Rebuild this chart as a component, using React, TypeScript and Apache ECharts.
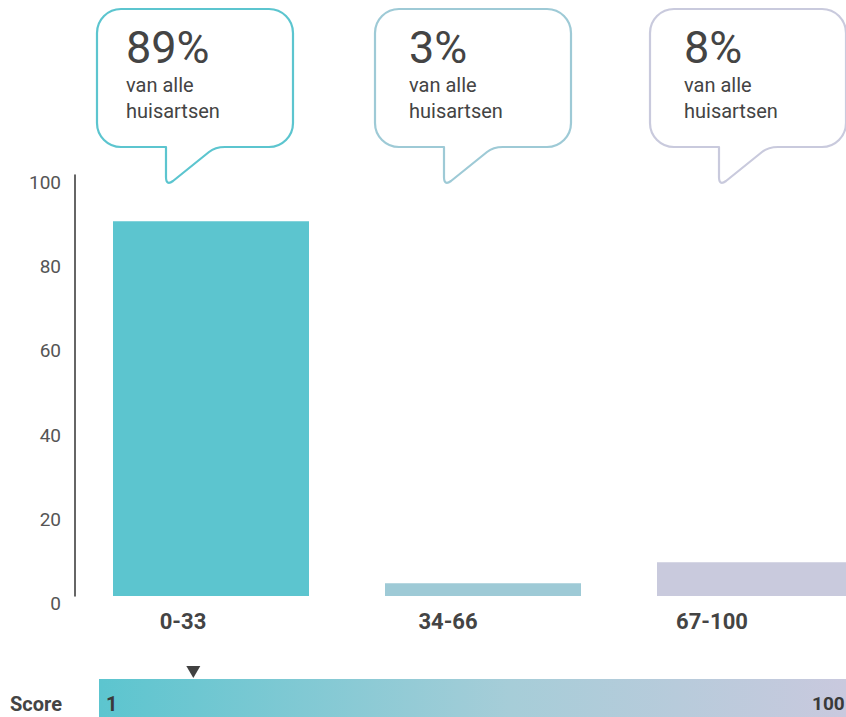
import { useEffect, useRef } from "react";
import * as echarts from "echarts";

const categories = ["0-33", "34-66", "67-100"];
const shares = [89, 3, 8];
const barColors = ["#5cc5cf", "#9ecad6", "#c9cadd"];
const yMax = 100;
const yInterval = 20;
const bubbleLine1 = "van alle";
const bubbleLine2 = "huisartsen";
const scoreLabel = "Score";
const scoreMin = 1;
const scoreMax = 100;
const scoreMarker = 13.5;

const FONT = "Roboto, 'DejaVu Sans', sans-serif";
const TEXT = "#444444";

export default function App() {
  const ref = useRef<HTMLDivElement>(null);

  useEffect(() => {
    if (!ref.current) return;
    const chart = echarts.init(ref.current, undefined, { renderer: "svg" });
    const bubbleShift = [-16, -10, -7];
    const labelShift = [56, 70, 86];

    const rich: Record<string, any> = {};
    labelShift.forEach((p, i) => {
      rich["l" + i] = {
        fontSize: 22,
        fontWeight: "bold",
        color: TEXT,
        fontFamily: FONT,
        padding: [0, p, 0, 0],
      };
    });

    chart.setOption({
      animation: false,
      backgroundColor: "#ffffff",
      grid: [
        { left: 75, right: 9, top: 175, bottom: 121, containLabel: false },
        {
          left: 99,
          right: 54,
          top: 679,
          height: 38,
          show: true,
          borderWidth: 0,
          backgroundColor: new echarts.graphic.LinearGradient(0, 0, 1, 0, [
            { offset: 0, color: "#5cc5cf" },
            { offset: 0.55, color: "#a6cdd8" },
            { offset: 1, color: "#c9c9de" },
          ]),
        },
      ],
      xAxis: [
        {
          type: "category",
          gridIndex: 0,
          data: categories,
          axisLine: { show: false },
          axisTick: { show: false },
          axisLabel: {
            margin: 14,
            formatter: (v: string, i: number) => `{l${i}|${v}}`,
            rich,
          },
        },
        {
          type: "value",
          gridIndex: 1,
          min: scoreMin,
          max: scoreMax,
          show: false,
        },
      ],
      yAxis: [
        {
          type: "value",
          gridIndex: 0,
          min: 0,
          max: yMax,
          interval: yInterval,
          axisLine: { show: true, lineStyle: { color: "#333333", width: 1.5 } },
          axisTick: { show: false },
          splitLine: { show: false },
          axisLabel: {
            margin: 14,
            fontSize: 19,
            color: "#555555",
            fontFamily: FONT,
            verticalAlign: "top",
            lineHeight: 19,
            padding: [-2, 0, 0, 0],
          },
        },
        { type: "value", gridIndex: 1, min: 0, max: 1, show: false },
      ],
      series: [
        {
          type: "bar",
          xAxisIndex: 0,
          yAxisIndex: 0,
          barWidth: 196,
          data: shares.map((v, i) => ({ value: v, itemStyle: { color: barColors[i] } })),
        },
        {
          type: "custom",
          xAxisIndex: 0,
          yAxisIndex: 0,
          clip: false,
          z: 10,
          data: shares.map((v, i) => [i, v]),
          encode: { x: 0, y: 1 },
          renderItem: (params: any, api: any) => {
            const idx = params.dataIndex;
            const cx = api.coord([api.value(0), 0])[0];
            const L = cx - 98 + bubbleShift[idx];
            const T = 9;
            const W = 196;
            const H = 138;
            const r = 24;
            const B = T + H;
            const d = [
              `M ${L + r} ${T}`,
              `L ${L + W - r} ${T}`,
              `A ${r} ${r} 0 0 1 ${L + W} ${T + r}`,
              `L ${L + W} ${B - r}`,
              `A ${r} ${r} 0 0 1 ${L + W - r} ${B}`,
              `L ${L + 128} ${B}`,
              `Q ${L + 118} ${B} ${L + 112} ${B + 5}`,
              `L ${L + 76} ${B + 34}`,
              `Q ${L + 69} ${B + 39} ${L + 69} ${B + 30}`,
              `L ${L + 69} ${B}`,
              `L ${L + r} ${B}`,
              `A ${r} ${r} 0 0 1 ${L} ${B - r}`,
              `L ${L} ${T + r}`,
              `A ${r} ${r} 0 0 1 ${L + r} ${T}`,
              "Z",
            ].join(" ");
            const tx = L + (idx === 0 ? 29 : 34);
            return {
              type: "group",
              children: [
                {
                  type: "path",
                  shape: { pathData: d },
                  style: {
                    fill: "#ffffff",
                    stroke: barColors[idx],
                    lineWidth: 2.2,
                    lineJoin: "round",
                  },
                },
                {
                  type: "text",
                  x: tx,
                  y: 47,
                  style: {
                    text: `${api.value(1)}%`,
                    fontSize: 45,
                    fontFamily: FONT,
                    fill: TEXT,
                    verticalAlign: "middle",
                    align: "left",
                  },
                },
                {
                  type: "text",
                  x: tx,
                  y: 85,
                  style: {
                    text: bubbleLine1,
                    fontSize: 20,
                    fontFamily: FONT,
                    fill: TEXT,
                    verticalAlign: "middle",
                    align: "left",
                  },
                },
                {
                  type: "text",
                  x: tx,
                  y: 111,
                  style: {
                    text: bubbleLine2,
                    fontSize: 20,
                    fontFamily: FONT,
                    fill: TEXT,
                    verticalAlign: "middle",
                    align: "left",
                  },
                },
              ],
            };
          },
        },
        {
          type: "scatter",
          xAxisIndex: 1,
          yAxisIndex: 1,
          data: [[scoreMarker, 1]],
          symbol: "triangle",
          symbolRotate: 180,
          symbolSize: [14, 12],
          symbolOffset: [0, -7],
          itemStyle: { color: "#111111" },
          z: 5,
        },
      ],
      graphic: [
        {
          type: "text",
          left: 10,
          top: 694,
          style: {
            text: scoreLabel,
            fontSize: 20,
            fontWeight: "bold",
            fontFamily: FONT,
            fill: TEXT,
          },
        },
        {
          type: "text",
          left: 106,
          top: 694,
          z: 10,
          style: {
            text: String(scoreMin),
            fontSize: 20,
            fontWeight: "bold",
            fontFamily: FONT,
            fill: "#3a3a3a",
          },
        },
        {
          type: "text",
          left: 812,
          top: 694,
          z: 10,
          style: {
            text: String(scoreMax),
            fontSize: 19,
            fontWeight: "bold",
            fontFamily: FONT,
            fill: "#3a3a3a",
          },
        },
      ],
    });

    return () => chart.dispose();
  }, []);

  return (
    <div
      style={{
        position: "absolute",
        left: 0,
        top: 0,
        width: 846,
        height: 717,
        overflow: "hidden",
        background: "#ffffff",
      }}
    >
      <div ref={ref} style={{ width: 900, height: 717 }} />
    </div>
  );
}
